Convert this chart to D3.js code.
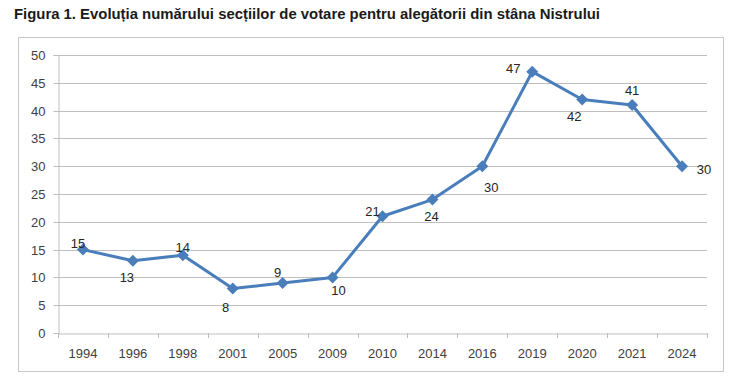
<!DOCTYPE html>
<html><head><meta charset="utf-8">
<script src="https://cdn.jsdelivr.net/npm/d3@7"></script>
<style>body{margin:0;background:#fff}svg{display:block}</style>
</head><body><svg id="c" width="740" height="380"></svg>
<script>
const title = "Figura 1. Evoluția numărului secțiilor de votare pentru alegătorii din stâna Nistrului";
const years = ["1994","1996","1998","2001","2005","2009","2010","2014","2016","2019","2020","2021","2024"];
const values = [15,13,14,8,9,10,21,24,30,47,42,41,30];
const yTicks = [0,5,10,15,20,25,30,35,40,45,50];

// label placement (style, not data)
const labelOffsets = [[-5,-6],[-6,17],[0,-8],[-7,19],[-5,-11],[6,13],[-10,-5],[-1,17],[9,21],[-19,-3],[-8,17],[0,-15],[22,3]];

const svg = d3.select("#c");
const font = "'Liberation Sans', Arial, sans-serif";
const m = {l:58, r:707, t:55, b:333};
const x = d3.scaleBand().domain(years).range([m.l, m.r]);
const y = d3.scaleLinear().domain([0,50]).range([m.b, m.t]);

// title
const t = svg.append("text").attr("x",14).attr("y",19).attr("font-family",font)
  .attr("font-weight","bold").attr("font-size",14).attr("fill","#1a1a1a").text(title);
const w = t.node().getComputedTextLength();
t.attr("textLength",586).attr("lengthAdjust","spacingAndGlyphs");

// frame
svg.append("rect").attr("x",18.5).attr("y",37.5).attr("width",705).attr("height",334)
  .attr("fill","none").attr("stroke","#c8c8c8").attr("stroke-width",1);

// grid
svg.append("g").selectAll("line").data(yTicks.filter(d=>d>0)).join("line")
  .attr("x1",m.l).attr("x2",m.r).attr("y1",d=>Math.round(y(d))+0.5).attr("y2",d=>Math.round(y(d))+0.5)
  .attr("stroke","#bebebe").attr("stroke-width",1);

// y axis
const ya = svg.append("g").attr("transform",`translate(${m.l+0.5},0)`)
  .call(d3.axisLeft(y).tickValues(yTicks).tickSize(5).tickPadding(8));
ya.select(".domain").attr("stroke","#bebebe");
ya.selectAll(".tick line").attr("stroke","#bebebe");
ya.selectAll(".tick").attr("transform",d=>`translate(0,${Math.round(y(d))+0.5})`);
ya.selectAll("text").attr("font-family",font).attr("font-size",13).attr("fill","#404040");

// x axis
const xa = svg.append("g").attr("transform",`translate(0,${m.b+0.5})`)
  .call(d3.axisBottom(x).tickSize(0).tickPadding(15));
xa.select(".domain").attr("stroke","#bebebe");
xa.selectAll("text").attr("font-family",font).attr("font-size",13).attr("fill","#404040");
svg.append("g").selectAll("line").data(years.concat(["end"])).join("line")
  .attr("x1",(d,i)=>Math.round(m.l + i*x.step())+0.5).attr("x2",(d,i)=>Math.round(m.l + i*x.step())+0.5)
  .attr("y1",m.b).attr("y2",m.b+5).attr("stroke","#bebebe");

// line
const cx = d=>x(d)+x.bandwidth()/2;
const pts = years.map((d,i)=>[cx(d), y(values[i])]);
svg.append("path").attr("d",d3.line()(pts)).attr("fill","none")
  .attr("stroke","#4a7ebb").attr("stroke-width",3).attr("stroke-linejoin","round");
svg.append("g").selectAll("path").data(pts).join("path")
  .attr("transform",d=>`translate(${d[0]},${d[1]})`)
  .attr("d","M0,-6L6,0L0,6L-6,0Z").attr("fill","#4a7ebb");

// labels
svg.append("g").selectAll("text").data(values).join("text")
  .attr("x",(d,i)=>pts[i][0]+labelOffsets[i][0])
  .attr("y",(d,i)=>pts[i][1]+labelOffsets[i][1])
  .attr("dy","0.35em").attr("text-anchor","middle")
  .attr("font-family",font).attr("font-size",13).attr("fill","#262626").text(d=>d);
</script></body></html>
